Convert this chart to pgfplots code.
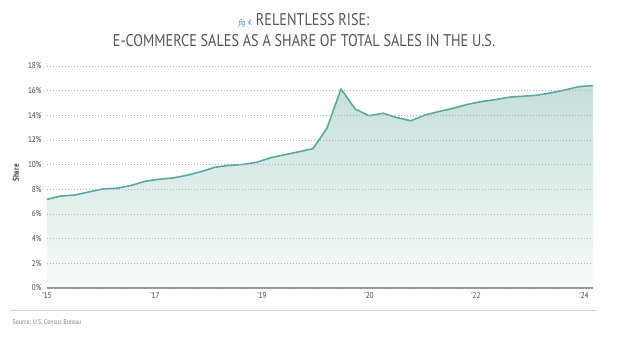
\documentclass[border=0pt]{standalone}
\usepackage{fontspec}
\setmainfont{PT Sans}[FakeStretch=0.85]
\newfontfamily\titlefont{PT Sans}[FakeStretch=0.84]
\usepackage{pgfplots}
\usepackage{pgfplotstable}
\pgfplotsset{compat=1.18}
\definecolor{lineC}{HTML}{5BA8A0}
\definecolor{fillTop}{HTML}{C6DFDB}
\definecolor{fillBot}{HTML}{F7FBFA}
\definecolor{gridC}{HTML}{B0B0B0}
\definecolor{txtC}{HTML}{444444}
\definecolor{titleC}{HTML}{555555}
\definecolor{figC}{HTML}{2F7FB5}
\pgfplotstableread{
i v
0 7.19
1 7.46
2 7.54
3 7.79
4 8.03
5 8.09
6 8.31
7 8.65
8 8.82
9 8.92
10 9.14
11 9.43
12 9.79
13 9.94
14 10.02
15 10.20
16 10.57
17 10.81
18 11.05
19 11.30
20 12.95
21 16.14
22 14.52
23 13.97
24 14.17
25 13.81
26 13.56
27 14.03
28 14.31
29 14.57
30 14.88
31 15.11
32 15.27
33 15.47
34 15.55
35 15.63
36 15.82
37 16.06
38 16.33
39 16.41
}\sharedata
\begin{document}
\begin{tikzpicture}
\useasboundingbox (0bp,0bp) rectangle (619bp,351bp);
\node[anchor=base, text=titleC, font=\titlefont\fontsize{17}{20}\selectfont] at (304bp,325bp)
  {{\color{figC}\fontsize{8}{9}\selectfont\itshape fig 4.}\ RELENTLESS RISE:};
\node[anchor=base, text=titleC, font=\titlefont\fontsize{17}{20}\selectfont] at (304bp,304bp)
  {E-COMMERCE SALES AS A SHARE OF TOTAL SALES IN THE U.S.};
\begin{axis}[
  at={(47bp,63bp)}, anchor=origin,
  width=546bp, height=222bp, scale only axis,
  xmin=0, xmax=39, ymin=0, ymax=18,
  axis line style={draw=none},
  major tick length=0pt,
  ytick={0,2,...,18},
  yticklabel={\pgfmathprintnumber{\tick}\%},
  xtick={0,7.71,15.36,23,30.64,38.36},
  xticklabels={’15,’17,’19,’20,’22,’24},
  /pgf/number format/assume math mode=true,
  ticklabel style={font=\fontsize{8.5}{10}\selectfont, text=txtC},
  yticklabel style={xshift=-2bp},
  xticklabel style={yshift=-1bp},
  ymajorgrids,
  grid style={gridC, line width=0.8bp, dash pattern=on 0.8bp off 2.2bp},
  axis on top,
  clip=false,
]
\addplot[draw=none, top color=fillTop, bottom color=fillBot] table[x=i,y=v]{\sharedata} \closedcycle;
\addplot[lineC, line width=1.6bp, line join=round] table[x=i,y=v]{\sharedata};
\draw[gray!85, line width=1.8bp] (axis cs:0,0) -- (axis cs:39,0);
\end{axis}
\node[rotate=90, text=txtC, font=\fontsize{8.5}{10}\selectfont\bfseries] at (16bp,178bp) {Share};
\draw[gray!35, line width=1bp] (10bp,40bp) -- (597bp,40bp);
\node[anchor=base west, text=gray, font=\fontsize{7}{8}\selectfont] at (9bp,27bp) {Source: U.S. Census Bureau};
\end{tikzpicture}
\end{document}
